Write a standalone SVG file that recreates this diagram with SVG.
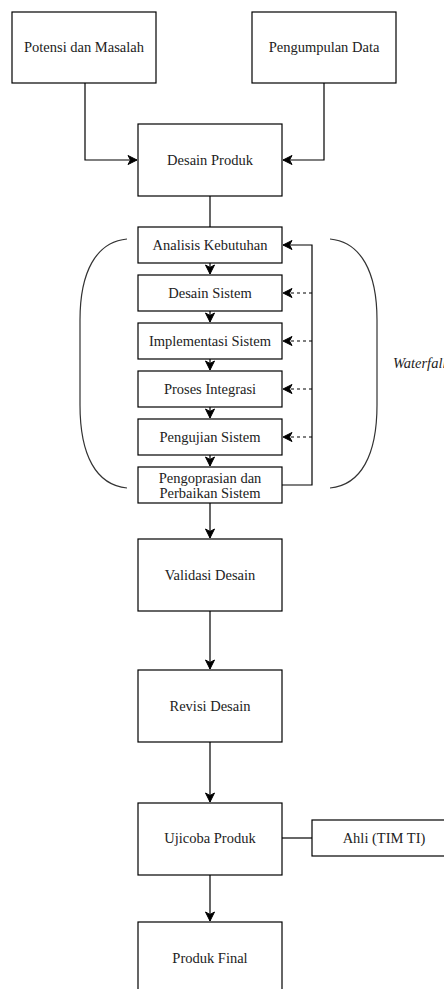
<svg xmlns="http://www.w3.org/2000/svg" width="444" height="989" viewBox="0 0 444 989">
<style>
.box{fill:#fff;stroke:#000;stroke-width:1.2}
.t{font-family:"Liberation Serif","Times New Roman",serif;font-size:14.5px;fill:#222;text-anchor:middle;dominant-baseline:central}
.c{fill:none;stroke:#000;stroke-width:1.2}
.d{fill:none;stroke:#000;stroke-width:1.2;stroke-dasharray:3 3}
.br{fill:none;stroke:#333;stroke-width:1.2}
</style>
<defs>
<marker id="ah" markerUnits="userSpaceOnUse" markerWidth="12" markerHeight="12" viewBox="-10 -6 12 12" refX="0" refY="0" orient="auto" overflow="visible">
<path d="M-9,-4.5 L0,0 L-9,4.5 L-6.5,0 z" fill="#000" stroke="#000" stroke-width="1"/>
</marker>
</defs>
<g id="connectors">
<path class="c" d="M85,83 V160 H137" marker-end="url(#ah)"/>
<path class="c" d="M324,83 V160 H283" marker-end="url(#ah)"/>
<path class="c" d="M210,196 V227"/>
<path class="c" d="M210,263 V274" marker-end="url(#ah)"/>
<path class="c" d="M210,311 V322" marker-end="url(#ah)"/>
<path class="c" d="M210,359 V370" marker-end="url(#ah)"/>
<path class="c" d="M210,407 V418" marker-end="url(#ah)"/>
<path class="c" d="M210,455 V466" marker-end="url(#ah)"/>
<path class="c" d="M282,485 H312 V245 H283" marker-end="url(#ah)"/>
<path class="d" d="M312,293 H283" marker-end="url(#ah)"/>
<path class="d" d="M312,341 H283" marker-end="url(#ah)"/>
<path class="d" d="M312,389 H283" marker-end="url(#ah)"/>
<path class="d" d="M312,437 H283" marker-end="url(#ah)"/>
<path class="c" d="M210,503 V538" marker-end="url(#ah)"/>
<path class="c" d="M210,611 V669" marker-end="url(#ah)"/>
<path class="c" d="M210,742 V802" marker-end="url(#ah)"/>
<path class="c" d="M210,875 V921" marker-end="url(#ah)"/>
<path class="c" d="M282,838 H312"/>
</g>
<g id="brackets">
<path class="br" d="M127,239 C96,242 80,272 80,320 L80,405 C80,455 96,485 127,488"/>
<path class="br" d="M330,239 C361,242 377,272 377,320 L377,405 C377,455 361,485 330,488"/>
<text class="t" x="393" y="363" style="text-anchor:start;font-style:italic">Waterfall</text>
</g>
<g id="potensi"><rect class="box" x="12" y="12" width="144" height="71"/><text class="t" x="84" y="47">Potensi dan Masalah</text></g>
<g id="pengumpulan"><rect class="box" x="252" y="12" width="144" height="71"/><text class="t" x="324" y="47">Pengumpulan Data</text></g>
<g id="desain-produk"><rect class="box" x="138" y="124" width="144" height="72"/><text class="t" x="210" y="160">Desain Produk</text></g>
<g id="analisis"><rect class="box" x="138" y="227" width="144" height="36"/><text class="t" x="210" y="245">Analisis Kebutuhan</text></g>
<g id="desain-sistem"><rect class="box" x="138" y="275" width="144" height="36"/><text class="t" x="210" y="293">Desain Sistem</text></g>
<g id="implementasi"><rect class="box" x="138" y="323" width="144" height="36"/><text class="t" x="210" y="341">Implementasi Sistem</text></g>
<g id="proses"><rect class="box" x="138" y="371" width="144" height="36"/><text class="t" x="210" y="389">Proses Integrasi</text></g>
<g id="pengujian"><rect class="box" x="138" y="419" width="144" height="36"/><text class="t" x="210" y="437">Pengujian Sistem</text></g>
<g id="pengoprasian"><rect class="box" x="138" y="467" width="144" height="36"/><text class="t" x="210" y="478">Pengoprasian dan</text><text class="t" x="210" y="493">Perbaikan Sistem</text></g>
<g id="validasi"><rect class="box" x="138" y="539" width="144" height="72"/><text class="t" x="210" y="575">Validasi Desain</text></g>
<g id="revisi"><rect class="box" x="138" y="670" width="144" height="72"/><text class="t" x="210" y="706">Revisi Desain</text></g>
<g id="ujicoba"><rect class="box" x="138" y="803" width="144" height="72"/><text class="t" x="210" y="838">Ujicoba Produk</text></g>
<g id="ahli"><rect class="box" x="312" y="820" width="144" height="36"/><text class="t" x="384" y="838">Ahli (TIM TI)</text></g>
<g id="produk-final"><rect class="box" x="138" y="922" width="144" height="72"/><text class="t" x="210" y="958">Produk Final</text></g>
</svg>
